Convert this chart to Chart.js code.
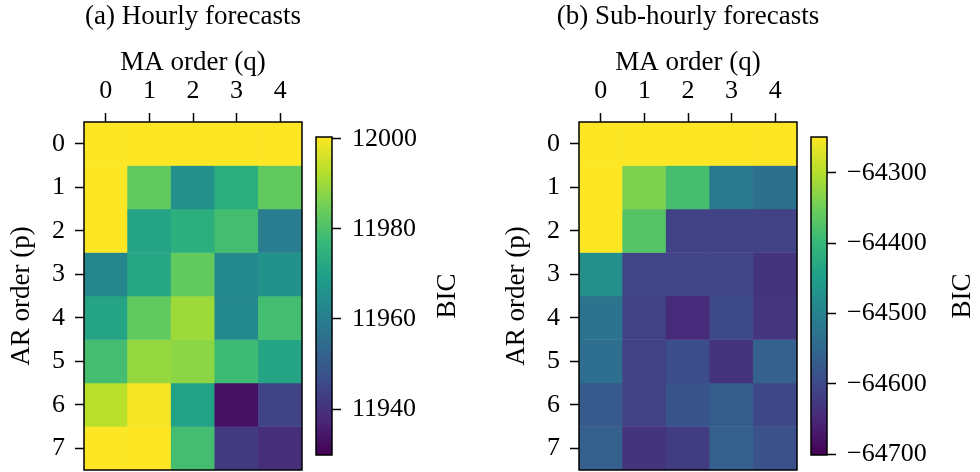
<!DOCTYPE html>
<html>
<head>
<meta charset="utf-8">
<script src="https://cdn.jsdelivr.net/npm/chart.js@4.4.1/dist/chart.umd.min.js"></script>
<style>
  html, body { margin: 0; padding: 0; background: #fff; }
  #fig { position: relative; width: 980px; height: 472px; overflow: hidden; background: #fff; }
  #fig canvas { position: absolute; top: 0; }
</style>
</head>
<body>
<div id="fig">
  <canvas id="heatHourly" width="340" height="472" style="left:0px;width:340px;height:472px"></canvas>
  <canvas id="barHourly" width="170" height="472" style="left:310px;width:170px;height:472px"></canvas>
  <canvas id="heatSub" width="340" height="472" style="left:495px;width:340px;height:472px"></canvas>
  <canvas id="barSub" width="175" height="472" style="left:805px;width:175px;height:472px"></canvas>
</div>
<script>
// Grid axes
const maOrders = ['0', '1', '2', '3', '4'];
const arOrders = [0, 1, 2, 3, 4, 5, 6, 7];

// BIC per (p, q): rows are AR order p, columns MA order q
const hourlyBIC = [
  [12001, 12001, 12001, 12001, 12001],
  [12001, 11983, 11965, 11974, 11983],
  [12001, 11971, 11974, 11979, 11960],
  [11962, 11972, 11983, 11963, 11966],
  [11971, 11983, 11990, 11963, 11979],
  [11979, 11989, 11988, 11978, 11971],
  [11993, 11999.5, 11970, 11933, 11944],
  [12001, 12001, 11979, 11942, 11939]
];
const subHourlyBIC = [
  [-64240, -64240, -64240, -64240, -64240],
  [-64240, -64339, -64385, -64520, -64534],
  [-64240, -64371, -64611, -64611, -64611],
  [-64475, -64606, -64606, -64606, -64633],
  [-64529, -64611, -64647, -64597, -64629],
  [-64538, -64611, -64593, -64633, -64561],
  [-64574, -64611, -64583, -64570, -64602],
  [-64565, -64633, -64620, -64565, -64588]
];

// Colour limits and colour-bar ticks
const hourlyRange = [11929.8, 12000.4];
const subHourlyRange = [-64701, -64249];
const hourlyTicks = [11940, 11960, 11980, 12000];
const subHourlyTicks = [-64700, -64600, -64500, -64400, -64300];

// viridis sampled at i/9
const viridisStops = ['#440154', '#482878', '#3e4989', '#31688e', '#26828e',
                      '#1f9e89', '#35b779', '#6ece58', '#b5de2b', '#fde725'];
const viridisRGB = viridisStops.map(h => [1, 3, 5].map(i => parseInt(h.substr(i, 2), 16)));
function viridis(t) {
  t = Math.min(1, Math.max(0, t));
  const n = viridisRGB.length - 1;
  const k = Math.min(n - 1, Math.floor(t * n));
  const f = t * n - k;
  const a = viridisRGB[k], b = viridisRGB[k + 1];
  const c = a.map((v, i) => Math.round(v + (b[i] - v) * f));
  return `rgb(${c[0]},${c[1]},${c[2]})`;
}

const FAMILY = "'Liberation Serif', 'Times New Roman', serif";
const TICK_FONT = { family: FAMILY, size: 26, lineHeight: 1.15, weight: 'normal' };
const LABEL_FONT = { family: FAMILY, size: 27, lineHeight: 1.15, weight: 'normal' };
const INK = '#000';

// black frame round the plot area
const framePlugin = {
  id: 'frame',
  afterDatasetsDraw(chart) {
    const a = chart.chartArea, ctx = chart.ctx;
    ctx.save();
    ctx.strokeStyle = INK;
    ctx.lineWidth = 1.5;
    ctx.strokeRect(a.left, a.top, a.right - a.left, a.bottom - a.top);
    ctx.restore();
  }
};

// panel heading centred over the plot area
const headingPlugin = {
  id: 'heading',
  afterDraw(chart, args, opts) {
    if (!opts || !opts.text) return;
    const a = chart.chartArea, ctx = chart.ctx;
    ctx.save();
    ctx.font = `${LABEL_FONT.size}px ${FAMILY}`;
    ctx.fillStyle = INK;
    ctx.textAlign = 'center';
    ctx.textBaseline = 'middle';
    ctx.fillText(opts.text, (a.left + a.right) / 2, opts.y);
    ctx.restore();
  }
};

// colour-bar label, reading upwards, right of the tick labels
const sideLabelPlugin = {
  id: 'sideLabel',
  afterDraw(chart, args, opts) {
    if (!opts || !opts.text) return;
    const a = chart.chartArea, ctx = chart.ctx;
    ctx.save();
    ctx.translate(a.right + opts.offset, (a.top + a.bottom) / 2);
    ctx.rotate(-Math.PI / 2);
    ctx.font = `${LABEL_FONT.size}px ${FAMILY}`;
    ctx.fillStyle = INK;
    ctx.textAlign = 'center';
    ctx.textBaseline = 'middle';
    ctx.fillText(opts.text, 0, 0);
    ctx.restore();
  }
};

const noEdgePadding = s => { s.paddingTop = 0; s.paddingBottom = 0; };

function heatmap(id, title, grid, range) {
  const span = range[1] - range[0];
  const datasets = arOrders.map((p, r) => ({
    data: maOrders.map(() => [p - 0.5, p + 0.5]),
    backgroundColor: grid[r].map(v => viridis((v - range[0]) / span)),
    borderWidth: 0,
    barPercentage: 1,
    categoryPercentage: 1,
    grouped: false
  }));
  return new Chart(document.getElementById(id), {
    type: 'bar',
    data: { labels: maOrders, datasets },
    plugins: [framePlugin, headingPlugin],
    options: {
      responsive: false,
      animation: false,
      events: [],
      layout: { padding: { left: 0, right: 38, top: 32, bottom: 2 } },
      plugins: {
        legend: { display: false },
        tooltip: { enabled: false },
        title: { display: false },
        heading: { text: title, y: 17 }
      },
      scales: {
        x: {
          type: 'category', position: 'top', offset: true,
          grid: { display: true, drawOnChartArea: false, drawTicks: true, offset: false,
                  tickLength: 9, tickWidth: 1.5, tickColor: INK },
          border: { display: false },
          ticks: { color: INK, font: TICK_FONT, padding: 7, maxRotation: 0 },
          title: { display: true, text: 'MA order (q)', color: INK, font: LABEL_FONT,
                   padding: { top: 15, bottom: 0 } },
          afterFit: s => { s.height = 90; }
        },
        y: {
          type: 'linear', reverse: true, min: -0.5, max: 7.5,
          afterBuildTicks: s => { s.ticks = arOrders.map(v => ({ value: v })); },
          grid: { display: true, drawOnChartArea: false, drawTicks: true,
                  tickLength: 9, tickWidth: 1.5, tickColor: INK },
          border: { display: false },
          ticks: { color: INK, font: TICK_FONT, padding: 10 },
          title: { display: true, text: 'AR order (p)', color: INK, font: LABEL_FONT,
                   padding: { top: 6, bottom: 0 } },
          afterFit: s => { s.width = 84; noEdgePadding(s); }
        }
      }
    }
  });
}

function colorbar(id, range, ticks, axisWidth, labelOffset) {
  return new Chart(document.getElementById(id), {
    type: 'bar',
    data: {
      labels: [''],
      datasets: [{
        data: [[range[0], range[1]]],
        backgroundColor: c => {
          const a = c.chart.chartArea;
          if (!a) return '#000';
          const g = c.chart.ctx.createLinearGradient(0, a.bottom, 0, a.top);
          viridisStops.forEach((col, i) => g.addColorStop(i / (viridisStops.length - 1), col));
          return g;
        },
        borderWidth: 0,
        barPercentage: 1,
        categoryPercentage: 1
      }]
    },
    plugins: [framePlugin, sideLabelPlugin],
    options: {
      responsive: false,
      animation: false,
      events: [],
      layout: { padding: { left: 6, right: 0, top: 137, bottom: 17 } },
      plugins: {
        legend: { display: false },
        tooltip: { enabled: false },
        sideLabel: { text: 'BIC', offset: labelOffset }
      },
      scales: {
        x: { display: false },
        y: {
          type: 'linear', position: 'right', min: range[0], max: range[1],
          afterBuildTicks: s => { s.ticks = ticks.map(v => ({ value: v })); },
          grid: { display: true, drawOnChartArea: false, drawTicks: true,
                  tickLength: 9, tickWidth: 1.5, tickColor: INK },
          border: { display: false },
          ticks: {
            color: INK, font: TICK_FONT, padding: 11,
            callback: v => (v < 0 ? '\u2212' : '') + Math.abs(v)
          },
          afterFit: s => { s.width = axisWidth; noEdgePadding(s); }
        }
      }
    }
  });
}

heatmap('heatHourly', '(a) Hourly forecasts', hourlyBIC, hourlyRange);
colorbar('barHourly', hourlyRange, hourlyTicks, 148, 116);
heatmap('heatSub', '(b) Sub-hourly forecasts', subHourlyBIC, subHourlyRange);
colorbar('barSub', subHourlyRange, subHourlyTicks, 153, 136);
</script>
</body>
</html>
